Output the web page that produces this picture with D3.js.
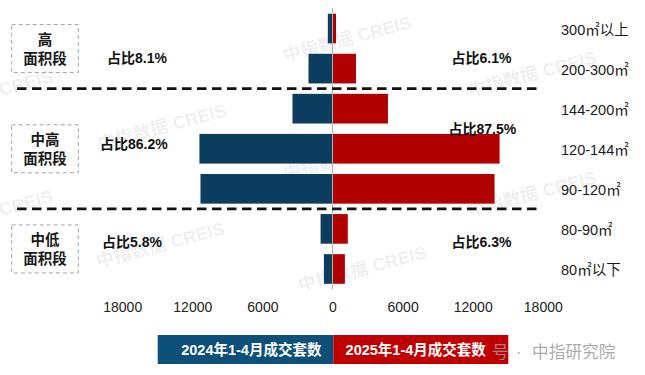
<!DOCTYPE html>
<html>
<head>
<meta charset="utf-8">
<script src="https://cdn.jsdelivr.net/npm/d3@7"></script>
<style>
  body { margin: 0; background: #fff; }
  #chart { width: 645px; height: 375px; }
  text { font-family: "Liberation Sans", Arial, "Noto Sans CJK SC", sans-serif; }
</style>
</head>
<body>
<div id="chart"></div>
<script>

// DATA

const categories = ["300㎡以上", "200-300㎡", "144-200㎡", "120-144㎡", "90-120㎡", "80-90㎡", "80㎡以下"];
const sales2024 = [400, 2055, 3425, 11390, 11300, 1020, 735];
const sales2025 = [300, 2010, 4745, 14300, 13870, 1310, 1060];
const tickValues = [-18000, -12000, -6000, 0, 6000, 12000, 18000];

const groups = [
    {name: ["高", "面积段"], from: "300㎡以上", to: "200-300㎡", share2024: "占比8.1%", share2025: "占比6.1%"},
    {name: ["中高", "面积段"], from: "144-200㎡", to: "90-120㎡", share2024: "占比86.2%", share2025: "占比87.5%"},
    {name: ["中低", "面积段"], from: "80-90㎡", to: "80㎡以下", share2024: "占比5.8%", share2025: "占比6.3%"}
];

const seriesNames = ["2024年1-4月成交套数", "2025年1-4月成交套数"];

const blue = "#0b3d5f";
const red = "#b00000";

// SVG CANVAS

const width = 645;
const height = 375;

const svg = d3.select("#chart")
    .append("svg")
    .attr("width", width)
    .attr("height", height);

// SCALES

const xScale = d3.scaleLinear()
    .domain([-18000, 18000])
    .range([122.2, 542.8]);

const yScale = d3.scaleBand()
    .domain(categories)
    .range([8.5, 289])
    .paddingInner(0.26)
    .paddingOuter(0.13);

// WATERMARKS (faint, behind everything)

const marks = [[100, 150], [98, 268], [285, 62], [285, 180], [470, 97], [470, 217], [300, 292]];
const edgeMarks = [[1, 96], [1, 216]];

svg.append("g")
    .selectAll("text")
    .data(marks)
    .enter()
    .append("text")
        .attr("transform", function(d) { return `translate(${d[0]},${d[1]}) rotate(-15)`; })
        .attr("font-size", 18)
        .attr("font-weight", "bold")
        .attr("fill", "#000")
        .attr("fill-opacity", 0.08)
        .text("中指数据 CREIS");

svg.append("g")
    .selectAll("text")
    .data(edgeMarks)
    .enter()
    .append("text")
        .attr("transform", function(d) { return `translate(${d[0]},${d[1]}) rotate(-15)`; })
        .attr("font-size", 18)
        .attr("font-weight", "bold")
        .attr("fill", "#000")
        .attr("fill-opacity", 0.08)
        .text("CREIS");

// BARS

const rows = categories.map(function(c, i) {
    return {cat: c, v2024: sales2024[i], v2025: sales2025[i]};
});

const bars = svg.append("g");

bars.selectAll(".left")
    .data(rows)
    .enter()
    .append("rect")
        .attr("class", "left")
        .attr("x", function(d) { return xScale(-d.v2024); })
        .attr("y", function(d) { return yScale(d.cat); })
        .attr("width", function(d) { return xScale(0) - xScale(-d.v2024); })
        .attr("height", yScale.bandwidth())
        .attr("fill", blue);

bars.selectAll(".right")
    .data(rows)
    .enter()
    .append("rect")
        .attr("class", "right")
        .attr("x", xScale(0))
        .attr("y", function(d) { return yScale(d.cat); })
        .attr("width", function(d) { return xScale(d.v2025) - xScale(0); })
        .attr("height", yScale.bandwidth())
        .attr("fill", red);

// CENTER LINE

svg.append("line")
    .attr("x1", xScale(0)).attr("x2", xScale(0))
    .attr("y1", 8).attr("y2", 289)
    .attr("stroke", "#b0b0b0")
    .attr("stroke-width", 1);

// AXIS

const xAxis = svg.append("g")
    .attr("transform", `translate(0,${296})`)
    .call(d3.axisBottom(xScale)
        .tickValues(tickValues)
        .tickSize(0)
        .tickPadding(6)
        .tickFormat(function(d) { return Math.abs(d); }));

xAxis.select(".domain").remove();
xAxis.selectAll("text")
    .attr("font-size", 14)
    .attr("fill", "#222")
    .attr("font-family", "\"Liberation Sans\", Arial, sans-serif");

// CATEGORY LABELS

svg.append("g")
    .selectAll("text")
    .data(categories)
    .enter()
    .append("text")
        .attr("x", 561)
        .attr("y", function(d) { return yScale(d) + yScale.bandwidth() / 2 + 6; })
        .attr("font-size", 14.5)
        .attr("fill", "#1a1a1a")
        .text(function(d) { return d; });

// GROUP SEPARATORS

const step = yScale.step();
[groups[0].to, groups[1].to].forEach(function(c) {
    const y = yScale(c) + yScale.bandwidth() + (step - yScale.bandwidth()) / 2;
    svg.append("line")
        .attr("x1", 17).attr("x2", 542)
        .attr("y1", y).attr("y2", y)
        .attr("stroke", "#111")
        .attr("stroke-width", 2.8)
        .attr("stroke-dasharray", "9.5,5.5");
});

// GROUP BOXES + SHARES

groups.forEach(function(g) {
    const top = yScale(g.from);
    const bottom = yScale(g.to) + yScale.bandwidth();
    const mid = (top + bottom) / 2;

    svg.append("rect")
        .attr("x", 11.7).attr("y", mid - 24)
        .attr("width", 66.6).attr("height", 48)
        .attr("fill", "none")
        .attr("stroke", "#a6a6a6")
        .attr("stroke-width", 1)
        .attr("stroke-dasharray", "4,3");

    svg.append("text")
        .attr("x", 45).attr("y", mid - 4)
        .attr("text-anchor", "middle")
        .attr("font-size", 14.5).attr("font-weight", "bold").attr("fill", "#1a1a1a")
        .text(g.name[0]);

    svg.append("text")
        .attr("x", 45).attr("y", mid + 15)
        .attr("text-anchor", "middle")
        .attr("font-size", 14.5).attr("font-weight", "bold").attr("fill", "#1a1a1a")
        .text(g.name[1]);
});

const shareLabels = [
    {t: groups[0].share2024, x: 107, y: 63},
    {t: groups[1].share2024, x: 100, y: 148.5},
    {t: groups[2].share2024, x: 102, y: 247},
    {t: groups[0].share2025, x: 451.5, y: 63},
    {t: groups[1].share2025, x: 448.5, y: 133.5},
    {t: groups[2].share2025, x: 451.5, y: 247}
];

svg.append("g")
    .selectAll("text")
    .data(shareLabels)
    .enter()
    .append("text")
        .attr("x", function(d) { return d.x; })
        .attr("y", function(d) { return d.y; })
        .attr("font-size", 14)
        .attr("font-weight", "bold")
        .attr("fill", "#111")
        .text(function(d) { return d.t; });

// LEGEND

const legend = svg.append("g");
const legendColors = ["#0c4f78", "#c00000"];
const legendX = [157.7, 333.3];
const legendW = [175.6, 175];

legend.selectAll("rect")
    .data(seriesNames)
    .enter()
    .append("rect")
        .attr("x", function(d, i) { return legendX[i]; })
        .attr("y", 335)
        .attr("width", function(d, i) { return legendW[i]; })
        .attr("height", 29)
        .attr("fill", function(d, i) { return legendColors[i]; });

legend.selectAll("text")
    .data(seriesNames)
    .enter()
    .append("text")
        .attr("x", function(d, i) { return [251.3, 415.7][i]; })
        .attr("y", 355)
        .attr("text-anchor", "middle")
        .attr("font-size", 14.5)
        .attr("font-weight", "bold")
        .attr("fill", "#fff")
        .text(function(d) { return d; });

// BOTTOM-RIGHT WATERMARK

const wm = svg.append("g")
    .attr("font-size", 16.7)
    .attr("fill", "#9c9c9c")
    .attr("fill-opacity", 0.85);

wm.append("text").attr("x", 492).attr("y", 357.5).text("号");
wm.append("text").attr("x", 516).attr("y", 357.5).text("·");
wm.append("text").attr("x", 532).attr("y", 357.5).text("中指研究院");

</script>
</body>
</html>
